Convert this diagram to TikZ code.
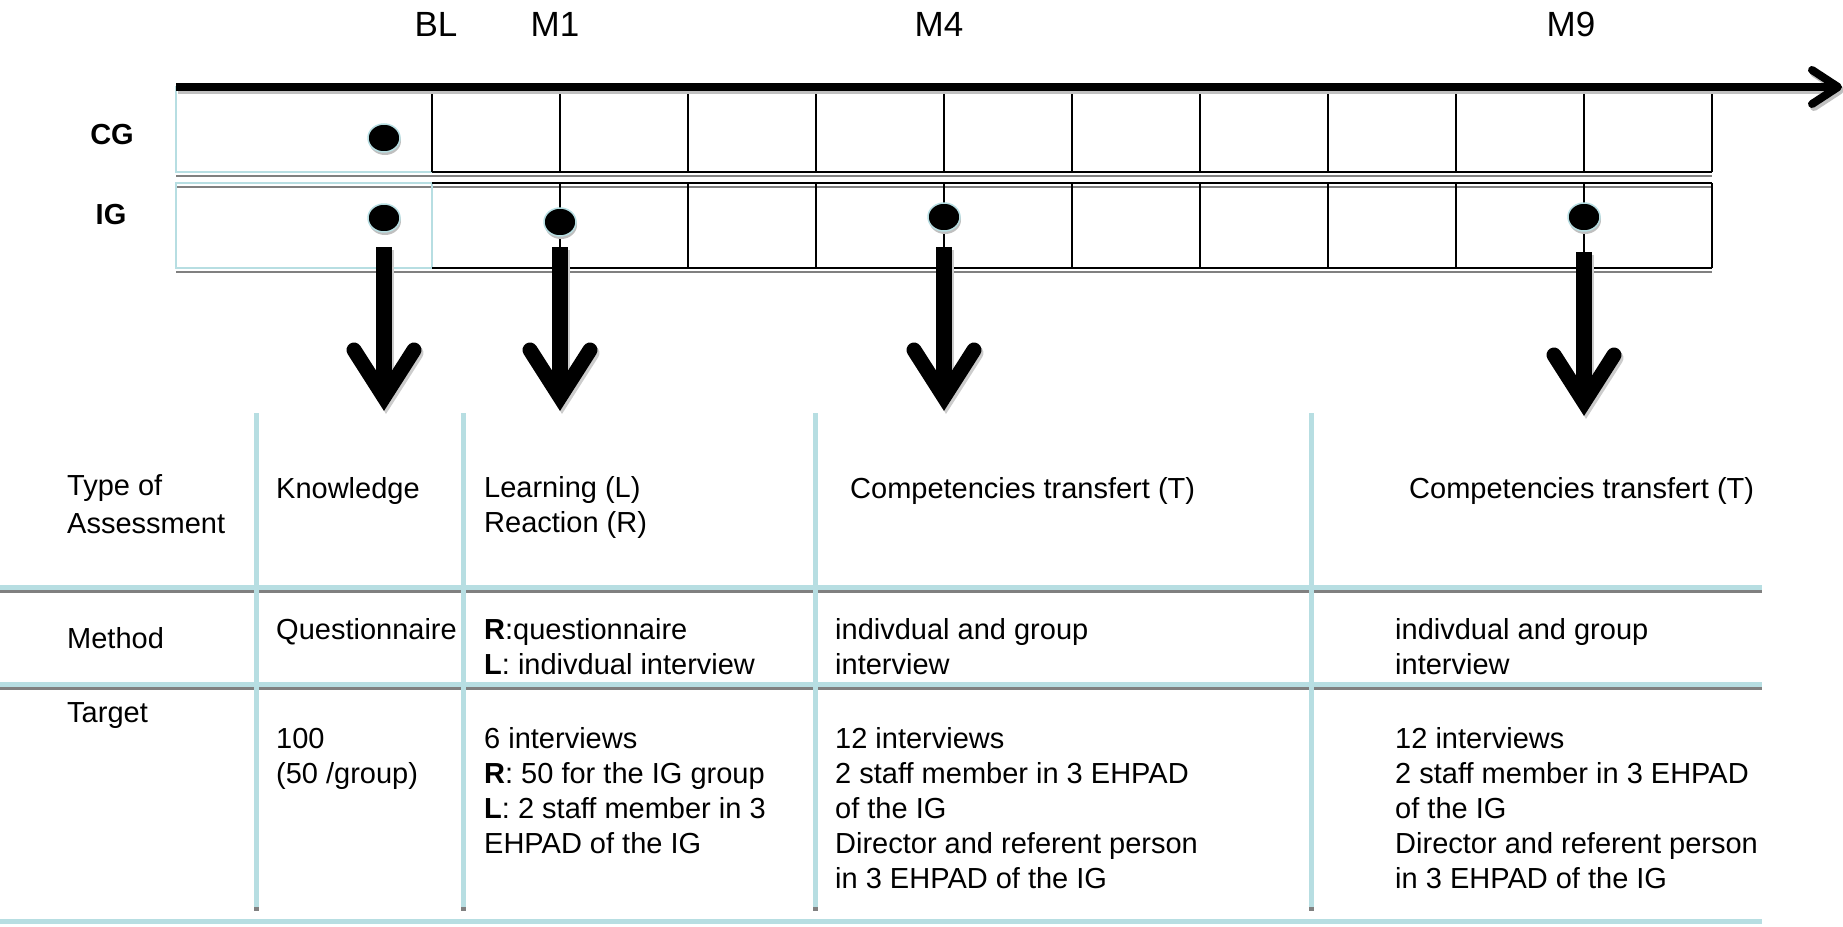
\documentclass[tikz,border=0pt]{standalone}
\usepackage{fontspec}
\setmainfont{Liberation Sans}
\usetikzlibrary{shapes.geometric,shadows,calc}
\definecolor{lblue}{RGB}{183,222,226}
\definecolor{sgray}{RGB}{128,128,128}
\newcommand\mcell[1]{\begin{tabular}[t]{@{}l@{}}#1\end{tabular}}
\begin{document}
\begin{tikzpicture}[x=1pt,y=-1pt,
  txt/.style={anchor=base west, inner sep=0pt, font=\fontsize{29}{35}\selectfont},
  toplab/.style={anchor=base, inner sep=0pt, font=\fontsize{35}{42}\selectfont},
  grplab/.style={inner sep=0pt, font=\fontsize{29}{35}\selectfont\bfseries},
  tdot/.style={ellipse, fill=black, draw=lblue, line width=1.5pt, minimum width=32pt, minimum height=28pt, inner sep=0pt,
    drop shadow={shadow xshift=1pt, shadow yshift=-3pt, fill=black!25, opacity=1}},
  gridline/.style={line width=2pt, black},
  shadowline/.style={line width=2.5pt, sgray},
  boxline/.style={line width=1.5pt, lblue},
  tvline/.style={line width=5pt, lblue},
  thline/.style={line width=5pt, lblue},
  tgline/.style={line width=3pt, sgray},
  arrstem/.style={line width=16pt, black},
  chev/.style={line width=15pt, black, line cap=round, line join=miter},
  tlarrow/.style={line width=8pt, black},
]
\useasboundingbox (0,0) rectangle (1843,926);

% ---------- lower table ----------
\draw[tgline] (0,591) -- (1762,591);
\draw[thline] (0,587) -- (1762,587);
\draw[tgline] (0,688) -- (1762,688);
\draw[thline] (0,684) -- (1762,684);
\draw[thline] (0,921) -- (1762,921);
\foreach \x in {256,463,815,1311}{
  \draw[sgray, line width=5pt] (\x,905) -- (\x,911);
  \draw[tvline] (\x,413) -- (\x,907);
}

% ---------- timeline grid ----------
\draw[shadowline] (176,176) -- (1712,176);
\draw[shadowline] (176,187) -- (1712,187);
\draw[shadowline] (176,272) -- (1712,272);
\draw[boxline] (176,87) rectangle (432,172);
\draw[boxline] (176,183) rectangle (432,268);
\draw[gridline] (432,172) -- (1712,172);
\draw[gridline] (432,183) -- (1712,183);
\draw[gridline] (432,268) -- (1712,268);
\foreach \k in {0,...,10}{
  \draw[gridline] ({432+128*\k},91) -- ({432+128*\k},172);
}
\foreach \k in {1,...,10}{
  \draw[gridline] ({432+128*\k},183) -- ({432+128*\k},268);
}

% ---------- time axis ----------
\coordinate (tl0) at (176,87);
\coordinate (tl1) at (1838,87);
\draw[tlarrow, sgray!50, transform canvas={shift={(2,3)}}] (tl0) -- (tl1);
\draw[tlarrow, sgray!50, line cap=round, line join=round, transform canvas={shift={(2,3)}}] (1812,70) -- (tl1) -- (1812,104);
\draw[tlarrow] (tl0) -- (tl1);
\draw[tlarrow, line cap=round, line join=round] (1812,70) -- (tl1) -- (1812,104);

% ---------- labels ----------
\node[toplab] (bl) at (436,36) {BL};
\node[toplab] (m1) at (555,36) {M1};
\node[toplab] (m4) at (939,36) {M4};
\node[toplab] (m9) at (1571,36) {M9};
\node[grplab] (cg) at (112,135) {CG};
\node[grplab] (ig) at (111,215) {IG};

% ---------- dots ----------
\node[tdot] (cgbl) at (384,138) {};
\node[tdot] (igbl) at (384,218) {};
\node[tdot] (igm1) at (560,222) {};
\node[tdot] (igm4) at (944,217) {};
\node[tdot] (igm9) at (1584,217) {};

% ---------- down arrows ----------
\foreach \n/\x/\d in {a/384/0, b/560/0, c/944/0, d/1584/5}{
  \coordinate (\n s) at (\x,{247+\d});
  \coordinate (\n e) at (\x,{392+\d});
  \coordinate (\n t) at (\x,{397+\d});
  \begin{scope}[transform canvas={shift={(2,3)}}]
    \draw[arrstem, black!20] (\n s) -- (\n e);
    \draw[chev, black!20] ($(\n t)+(-30,-47)$) -- (\n t) -- ($(\n t)+(30,-47)$);
  \end{scope}
  \draw[arrstem] (\n s) -- (\n e);
  \draw[chev] ($(\n t)+(-30,-47)$) -- (\n t) -- ($(\n t)+(30,-47)$);
}

% ---------- table text ----------
\node[txt] (h1) at (67,495) {\mcell{Type of\\[3pt]Assessment}};
\node[txt] (k1) at (276,498) {Knowledge};
\node[txt] (l1) at (484,497) {\mcell{Learning (L)\\Reaction (R)}};
\node[txt] (c4) at (850,498) {Competencies transfert (T)};
\node[txt] (c5) at (1409,498) {Competencies transfert (T)};

\node[txt] (h2) at (67,648) {Method};
\node[txt] (q2) at (276,639) {Questionnaire};
\node[txt] (r2) at (484,639) {\mcell{\textbf{R}:questionnaire\\\textbf{L}: indivdual interview}};
\node[txt] (i4) at (835,639) {\mcell{indivdual and group\\interview}};
\node[txt] (i5) at (1395,639) {\mcell{indivdual and group\\interview}};

\node[txt] (h3) at (67,722) {Target};
\node[txt] (t2) at (276,748) {\mcell{100\\(50 /group)}};
\node[txt] (t3) at (484,748) {\mcell{6 interviews\\\textbf{R}: 50 for the IG group\\\textbf{L}: 2 staff member in 3\\EHPAD of the IG}};
\node[txt] (t4) at (835,748) {\mcell{12 interviews\\2 staff member in 3 EHPAD\\of the IG\\Director and referent person\\in 3 EHPAD of the IG}};
\node[txt] (t5) at (1395,748) {\mcell{12 interviews\\2 staff member in 3 EHPAD\\of the IG\\Director and referent person\\in 3 EHPAD of the IG}};
\end{tikzpicture}
\end{document}
